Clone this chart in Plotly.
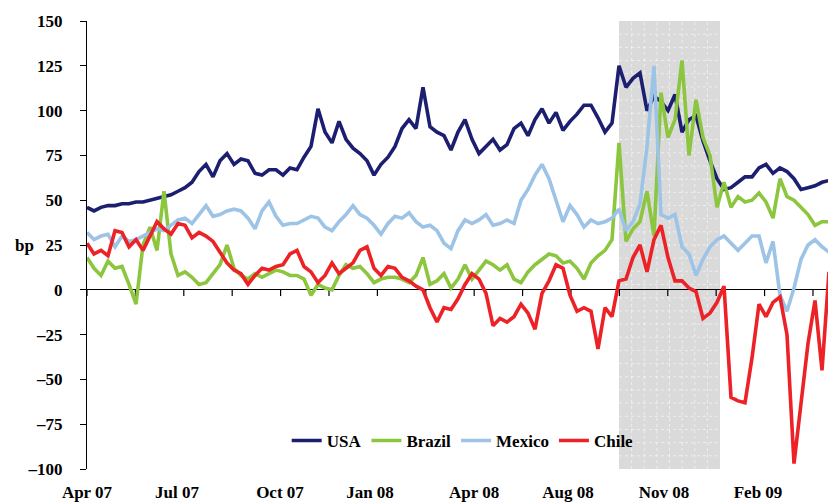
import plotly.graph_objects as go

# sample index (roughly weekly, Apr 2007 - Apr 2009)
usa = [46, 44, 46, 47, 47, 48, 48, 49, 49, 50, 51, 52, 53, 55, 57, 60, 66, 70, 63, 72,
       76, 70, 73, 72, 65, 64, 67, 67, 64, 68, 67, 74, 80, 101, 88, 82, 94, 84, 79, 76,
       72, 64, 70, 74, 80, 90, 95, 90, 113, 91, 88, 86, 78, 88, 95, 84, 76, 80, 84, 78,
       81, 90, 93, 86, 95, 101, 93, 99, 89, 94, 98, 103, 103, 96, 88, 93, 125, 113, 118, 121,
       100, 108, 105, 100, 109, 88, 95, 97, 83, 72, 62, 56, 57, 60, 63, 63, 68, 70, 65, 68,
       66, 62, 56, 57, 58, 60, 61]
brazil = [18, 12, 8, 16, 12, 13, 3, -8, 25, 35, 22, 55, 20, 8, 10, 7, 3, 4, 9, 14,
          25, 12, 8, 6, 9, 7, 9, 11, 10, 8, 8, 6, -3, 3, 1, 0, 8, 14, 12, 13,
          9, 4, 6, 7, 7, 6, 4, 8, 18, 3, 5, 9, 1, 6, 14, 6, 11, 16, 14, 11,
          14, 6, 4, 10, 14, 17, 20, 19, 15, 16, 12, 6, 15, 19, 22, 28, 82, 27, 34, 38,
          55, 30, 110, 85, 95, 128, 75, 106, 85, 75, 46, 60, 46, 52, 49, 50, 54, 49, 40, 62,
          52, 50, 46, 42, 36, 38, 38]
mexico = [32, 28, 30, 31, 24, 30, 27, 28, 30, 32, 34, 33, 36, 39, 40, 37, 42, 47, 41, 42,
          44, 45, 44, 40, 34, 44, 49, 41, 36, 37, 37, 39, 41, 40, 35, 33, 38, 42, 47, 42,
          40, 36, 31, 37, 41, 40, 43, 38, 35, 36, 33, 26, 23, 33, 39, 37, 39, 42, 36, 37,
          39, 37, 50, 56, 64, 70, 62, 50, 38, 47, 42, 35, 39, 37, 38, 40, 45, 33, 38, 48,
          80, 125, 42, 40, 42, 24, 20, 8, 17, 24, 28, 30, 26, 22, 26, 30, 30, 15, 27, -3,
          -12, 1, 17, 25, 28, 24, 21]
chile = [26, 20, 22, 19, 33, 32, 24, 28, 22, 30, 38, 34, 31, 37, 36, 29, 32, 30, 27, 21,
         15, 11, 9, 3, 8, 12, 11, 13, 14, 20, 22, 13, 10, 4, 8, 15, 9, 12, 15, 22,
         24, 12, 8, 13, 12, 7, 5, 2, 0, -10, -18, -10, -11, -5, 3, 9, 6, -2, -20, -16,
         -18, -15, -8, -13, -22, -2, 5, 14, 12, -3, -12, -10, -12, -33, -10, -15, 5, 6, 18, 25,
         10, 28, 36, 18, 5, 5, 1, -1, -16, -13, -7, 2, -60, -62, -63, -38, -8, -15, -7, -4,
         -25, -97, -65, -30, -6, -45, 10]

series_names = ["USA", "Brazil", "Mexico", "Chile"]
series_colors = ["#1c1f70", "#8cc63e", "#9dc3e6", "#ec2227"]

x_labels = ["Apr 07", "Jul 07", "Oct 07", "Jan 08", "Apr 08", "Aug 08", "Nov 08", "Feb 09"]
label_pos = [0.0, 12.86, 27.57, 40.43, 55.29, 68.71, 82.43, 95.86]
tick_step = 6.914
tick_pos = [k * tick_step for k in range(16)]
shade_start, shade_end = 76.0, 90.43
x_max = 105.857

y_ticks = [150, 125, 100, 75, 50, 25, 0, -25, -50, -75, -100]
y_text = ["150", "125", "100", "75", "50", "25", "0", "–25", "–50", "–75", "–100"]

FS = 17

fig = go.Figure()
for name, vals, col in zip(series_names, [usa, brazil, mexico, chile], series_colors):
    fig.add_trace(go.Scatter(x=list(range(len(vals))), y=vals, mode="lines", name=name,
                             line=dict(color=col, width=3.6)))

# shaded crisis period with faint grid texture
fig.add_shape(type="rect", xref="x", yref="paper", x0=shade_start, x1=shade_end, y0=0, y1=1,
              fillcolor="#dadada", line=dict(width=0), layer="below")
nv = 8
for k in range(1, nv):
    xv = shade_start + (shade_end - shade_start) * k / nv
    fig.add_shape(type="line", xref="x", yref="paper", x0=xv, x1=xv, y0=0, y1=1,
                  line=dict(color="rgba(255,255,255,0.55)", width=1, dash="dot"), layer="below")
for k in range(1, 34):
    yv = k / 34
    fig.add_shape(type="line", xref="x", yref="paper", x0=shade_start, x1=shade_end, y0=yv, y1=yv,
                  line=dict(color="rgba(255,255,255,0.55)", width=1, dash="dot"), layer="below")

# small tick marks hanging below the zero line
for tp in tick_pos:
    fig.add_shape(type="line", xref="x", yref="y", x0=tp, x1=tp, y0=0, y1=-3.5,
                  line=dict(color="black", width=1.2), layer="between")

fig.add_annotation(text="bp", xref="paper", yref="paper", x=-0.0837, xanchor="center",
                   y=0.5, yanchor="middle", showarrow=False,
                   font=dict(family="Liberation Serif", size=FS, color="black", weight="bold"))

fig.update_layout(
    width=828, height=503,
    margin=dict(l=87, r=0, t=21, b=34),
    plot_bgcolor="white", paper_bgcolor="white",
    font=dict(family="Liberation Serif", size=FS, color="black", weight="bold"),
    showlegend=True,
    legend=dict(orientation="h", x=0.507, xanchor="center", y=0.0625, yanchor="middle",
                bgcolor="rgba(0,0,0,0)", font=dict(size=FS, weight="bold"),
                itemwidth=30, tracegroupgap=0),
    xaxis=dict(range=[0, x_max], showgrid=False, zeroline=False, showline=False,
               tickmode="array", tickvals=label_pos, ticktext=x_labels, ticks="",
               ticklabelstandoff=11),
    yaxis=dict(range=[-100, 150], showgrid=False, zeroline=True, zerolinecolor="black",
               zerolinewidth=1, showline=True, linecolor="black", linewidth=1,
               tickmode="array", tickvals=y_ticks, ticktext=y_text, ticks="outside",
               ticklen=6, tickcolor="black", ticklabelstandoff=14),
)

fig.write_html("out.html")
